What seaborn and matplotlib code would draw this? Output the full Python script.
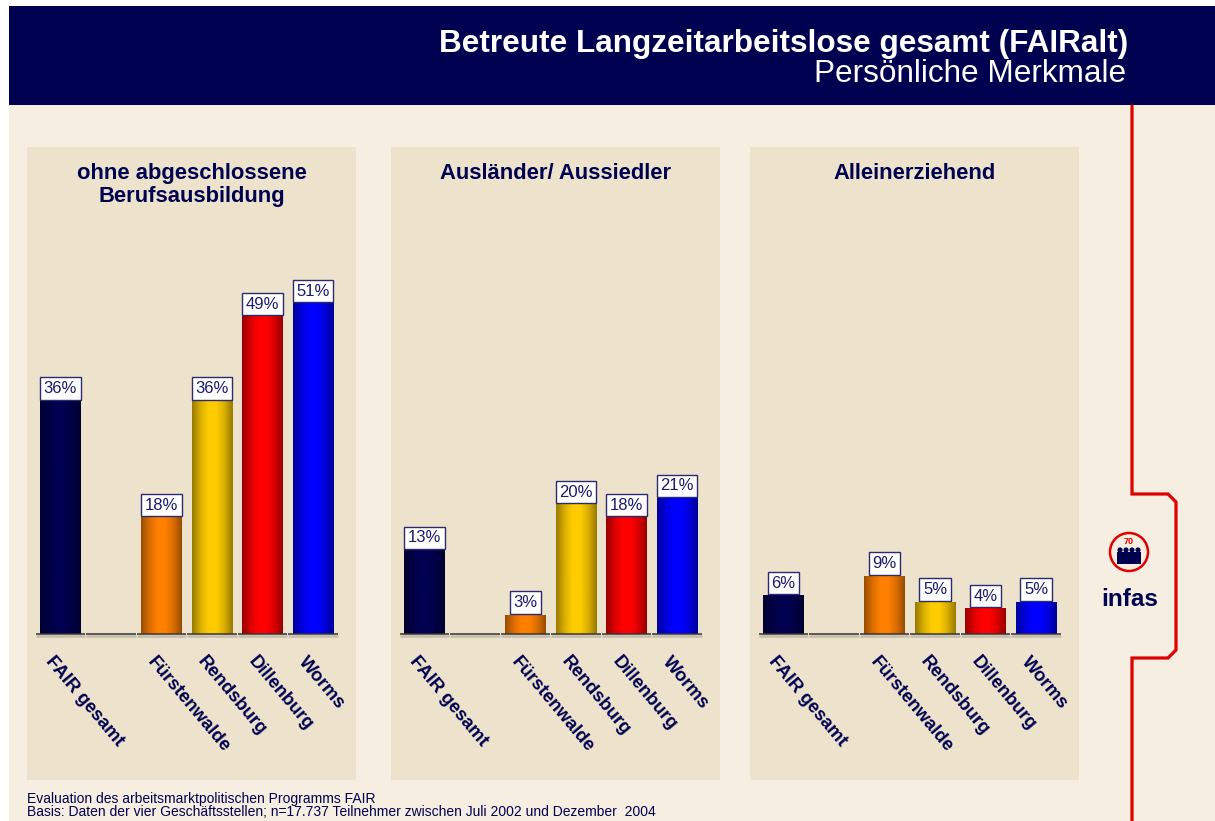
import numpy as np
import matplotlib
matplotlib.use("Agg")
import matplotlib.pyplot as plt
import seaborn as sns
from matplotlib.patches import Rectangle, Circle, PathPatch
from matplotlib.path import Path
from matplotlib.colors import LinearSegmentedColormap, to_rgb

sns.set_theme(style="white")
plt.rcParams['font.family'] = ['Liberation Sans', 'DejaVu Sans']

# ---------------- data ----------------
categories = ["FAIR gesamt", "", "Fürstenwalde", "Rendsburg", "Dillenburg", "Worms"]
panel_titles = ["ohne abgeschlossene\nBerufsausbildung", "Ausländer/ Aussiedler", "Alleinerziehend"]
vals_ohne = [36, np.nan, 18, 36, 49, 51]
vals_auslaender = [13, np.nan, 3, 20, 18, 21]
vals_allein = [6, np.nan, 9, 5, 4, 5]
bar_colors = ["#000050", "#ffffff", "#ff8000", "#ffcc00", "#ff0000", "#0000ff"]

title = "Betreute Langzeitarbeitslose gesamt (FAIRalt)"
subtitle = "Persönliche Merkmale"
footer1 = "Evaluation des arbeitsmarktpolitischen Programms FAIR"
footer2 = "Basis: Daten der vier Geschäftsstellen; n=17.737 Teilnehmer zwischen Juli 2002 und Dezember  2004"

NAVY = "#000050"
W, H = 1215, 821
fig = plt.figure(figsize=(W / 100, H / 100), dpi=100)
fig.patch.set_facecolor("white")

# ---------------- background / decoration axes ----------------
bg = fig.add_axes([0, 0, 1, 1], zorder=0)
bg.set_xlim(0, W)
bg.set_ylim(H, 0)
bg.axis("off")
bg.add_patch(Rectangle((9, 105), W - 9, H - 105, fc="#f5eee1", ec="none"))
bg.add_patch(Rectangle((9, 6), W - 9, 99, fc=NAVY, ec="none"))
bg.text(1128, 52, title, color="white", fontsize=22.7, fontweight="bold", ha="right", va="baseline")
bg.text(1126, 82, subtitle, color="white", fontsize=22.7, ha="right", va="baseline")
bg.text(27, 803, footer1, color=NAVY, fontsize=10, ha="left", va="baseline")
bg.text(27, 816, footer2, color=NAVY, fontsize=10, ha="left", va="baseline")

# red bracket line
verts = [(1132, 105), (1132, 494), (1168, 494), (1176, 502), (1176, 650), (1168, 658),
         (1132, 658), (1132, 821)]
bg.add_patch(PathPatch(Path(verts), fc="none", ec="#e00000", lw=2.3))

# infas logo
bg.add_patch(Circle((1129, 552), 19, fc="none", ec="#e00000", lw=1.8))
bg.text(1129, 541, "70", color="#e00000", fontsize=6.5, fontweight="bold", ha="center", va="center")
for dx in (-9, -3, 3, 9):
    bg.add_patch(Circle((1129 + dx, 550), 2.6, fc=NAVY, ec="none"))
    bg.add_patch(Rectangle((1129 + dx - 2.6, 552), 5.2, 12, fc=NAVY, ec="none"))
bg.text(1130, 599, "infas", color=NAVY, fontsize=17.5, fontweight="bold", ha="center", va="center")

# ---------------- panels ----------------
panel_left = [27, 391, 750]
panel_w = 329
panel_top, panel_bot = 147, 780
baseline_px = 634
px_per_unit = 6.49
slot = 50.5
center0 = 33.5

def gradient_cmap(c):
    r, g, b = to_rgb(c)
    dark = (r * 0.6, g * 0.6, b * 0.6)
    mid = (r * 0.85, g * 0.85, b * 0.85)
    return LinearSegmentedColormap.from_list("g", [dark, mid, (r, g, b), (r, g, b), mid, dark])

all_vals = [vals_ohne, vals_auslaender, vals_allein]
for k in range(3):
    x0 = panel_left[k]
    ax = fig.add_axes([x0 / W, 1 - panel_bot / H, panel_w / W, (panel_bot - panel_top) / H], zorder=2)
    ax.set_facecolor("#ede3cd")
    vals = all_vals[k]
    sns.barplot(x=categories, y=vals, hue=categories, hue_order=categories, order=categories,
                palette=dict(zip(categories, bar_colors)), legend=False, width=0.8,
                dodge=False, ax=ax, linewidth=0, saturation=1)
    xl = (-center0 / slot, (panel_w - center0) / slot)
    yl = (-(panel_bot - baseline_px) / px_per_unit, (baseline_px - panel_top) / px_per_unit)
    # gradient overlay
    grad = np.linspace(0, 1, 64).reshape(1, -1)
    for p in list(ax.patches):
        h = p.get_height()
        if not np.isfinite(h) or h <= 0:
            continue
        xc = p.get_x() + p.get_width() / 2
        idx = int(round(xc))
        im = ax.imshow(grad, cmap=gradient_cmap(bar_colors[idx]), aspect="auto",
                       extent=(p.get_x(), p.get_x() + p.get_width(), 0, h), zorder=2.5)
        im.set_clip_path(p)
    ax.set_xlim(*xl)
    ax.set_ylim(*yl)
    # baseline segments
    for i in range(len(categories)):
        ax.plot([i - 0.49, i + 0.49], [-0.25, -0.25], color="#c8bfae", lw=2.0, zorder=3,
                solid_capstyle="butt")
        ax.plot([i - 0.49, i + 0.49], [0, 0], color="#333333", lw=1.1, zorder=3.1,
                solid_capstyle="butt")
    # value labels
    for i, v in enumerate(vals):
        if np.isfinite(v):
            ax.annotate(f"{int(v)}%", xy=(i, v), xytext=(0, 3.2), textcoords="offset points",
                        ha="center", va="bottom", fontsize=12, color="#1a1a6e", zorder=5,
                        bbox=dict(boxstyle="square,pad=0.22", fc="white", ec="#2a2a70", lw=1.0))
    # category labels
    for i, c in enumerate(categories):
        if c:
            ax.text(i - 0.1, -3.0, c, rotation=-50, rotation_mode="anchor", ha="left", va="top",
                    fontsize=13.3, fontweight="bold", color=NAVY, clip_on=False, zorder=5)
    ax.text(0.5, (panel_bot - 163) / (panel_bot - panel_top), panel_titles[k], transform=ax.transAxes,
            ha="center", va="top", fontsize=15.8, fontweight="bold", color=NAVY, linespacing=1.1)
    ax.set_xticks([])
    ax.set_yticks([])
    ax.set_xlabel("")
    ax.set_ylabel("")
    for s in ax.spines.values():
        s.set_visible(False)

fig.savefig("out.png", dpi=100, facecolor=fig.get_facecolor())
